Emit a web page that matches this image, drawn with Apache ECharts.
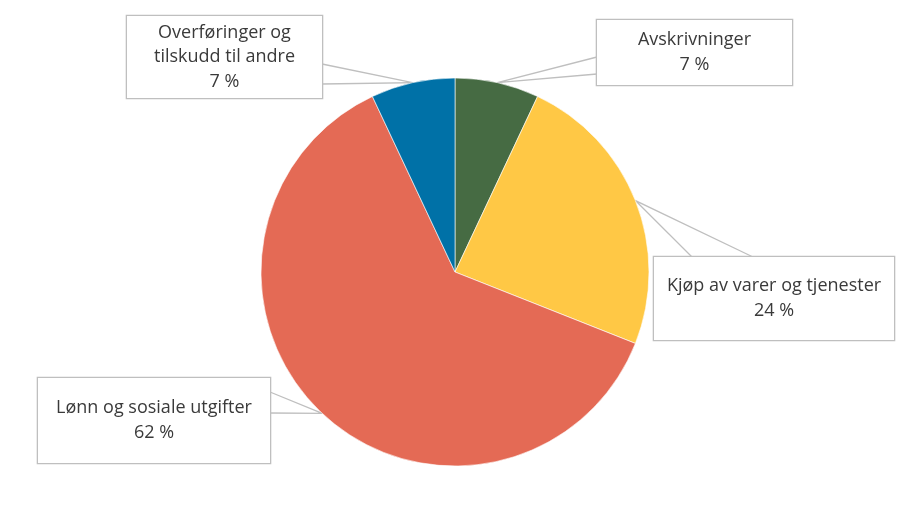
<!DOCTYPE html>
<html>
<head>
<meta charset="utf-8">
<script src="https://cdn.jsdelivr.net/npm/echarts@6/dist/echarts.min.js"></script>
<style>
  html, body { margin: 0; padding: 0; background: #fff; }
  #chart { width: 904px; height: 515px; }
</style>
</head>
<body>
<div id="chart"></div>
<script>
// data (percent of total)
const categories = ['Avskrivninger', 'Kjøp av varer og tjenester', 'Lønn og sosiale utgifter', 'Overføringer og\ntilskudd til andre'];
const values = [7, 24, 62, 7];
const colors = ['#466b43', '#ffc845', '#e46a55', '#0071a7'];

// callout boxes: left, top, width, height + the two points where the wedge meets the box
const boxes = [
  { x: 597, y: 20, w: 195, h: 65, a: [597, 57], b: [597, 74] },
  { x: 654, y: 257, w: 240, h: 83, a: [692, 257], b: [753, 257] },
  { x: 38, y: 378, w: 232, h: 85, a: [270, 392], b: [270, 413] },
  { x: 127, y: 16, w: 195, h: 82, a: [322, 64], b: [322, 84] }
];
const LINE_H = 24.5;

var chart = echarts.init(document.getElementById('chart'), null, { renderer: 'canvas' });

const data = categories.map(function (name, i) {
  const lines = name.split('\n').length + 1;
  const pad = (boxes[i].h - lines * LINE_H) / 2;
  return {
    name: name,
    value: values[i],
    itemStyle: { color: colors[i] },
    label: { width: boxes[i].w, padding: [pad, 0, pad, 0] }
  };
});

chart.setOption({
  animation: false,
  series: [{
    type: 'pie',
    center: [455, 272],
    radius: 194,
    startAngle: 90,
    clockwise: true,
    avoidLabelOverlap: false,
    emphasis: { disabled: true },
    itemStyle: { borderColor: '#ffffff', borderWidth: 0.6 },
    label: {
      show: true,
      position: 'outside',
      formatter: function (p) { return p.name + '\n' + Math.round(p.percent) + ' %'; },
      fontFamily: 'Open Sans',
      fontSize: 18,
      color: '#3a3a3a',
      lineHeight: LINE_H,
      align: 'center',
      overflow: 'none',
      backgroundColor: '#ffffff',
      borderColor: '#bfbfbf',
      borderWidth: 1.3
    },
    labelLine: {
      show: true,
      length: 10,
      length2: 10,
      lineStyle: { color: '#bfbfbf', width: 1.3 }
    },
    labelLayout: function (params) {
      const box = boxes[params.dataIndex];
      const tip = params.labelLinePoints[0];
      return {
        x: box.x + box.w / 2,
        y: box.y,
        align: 'center',
        verticalAlign: 'top',
        labelLinePoints: [box.a, tip, box.b]
      };
    },
    data: data
  }]
});
</script>
</body>
</html>
